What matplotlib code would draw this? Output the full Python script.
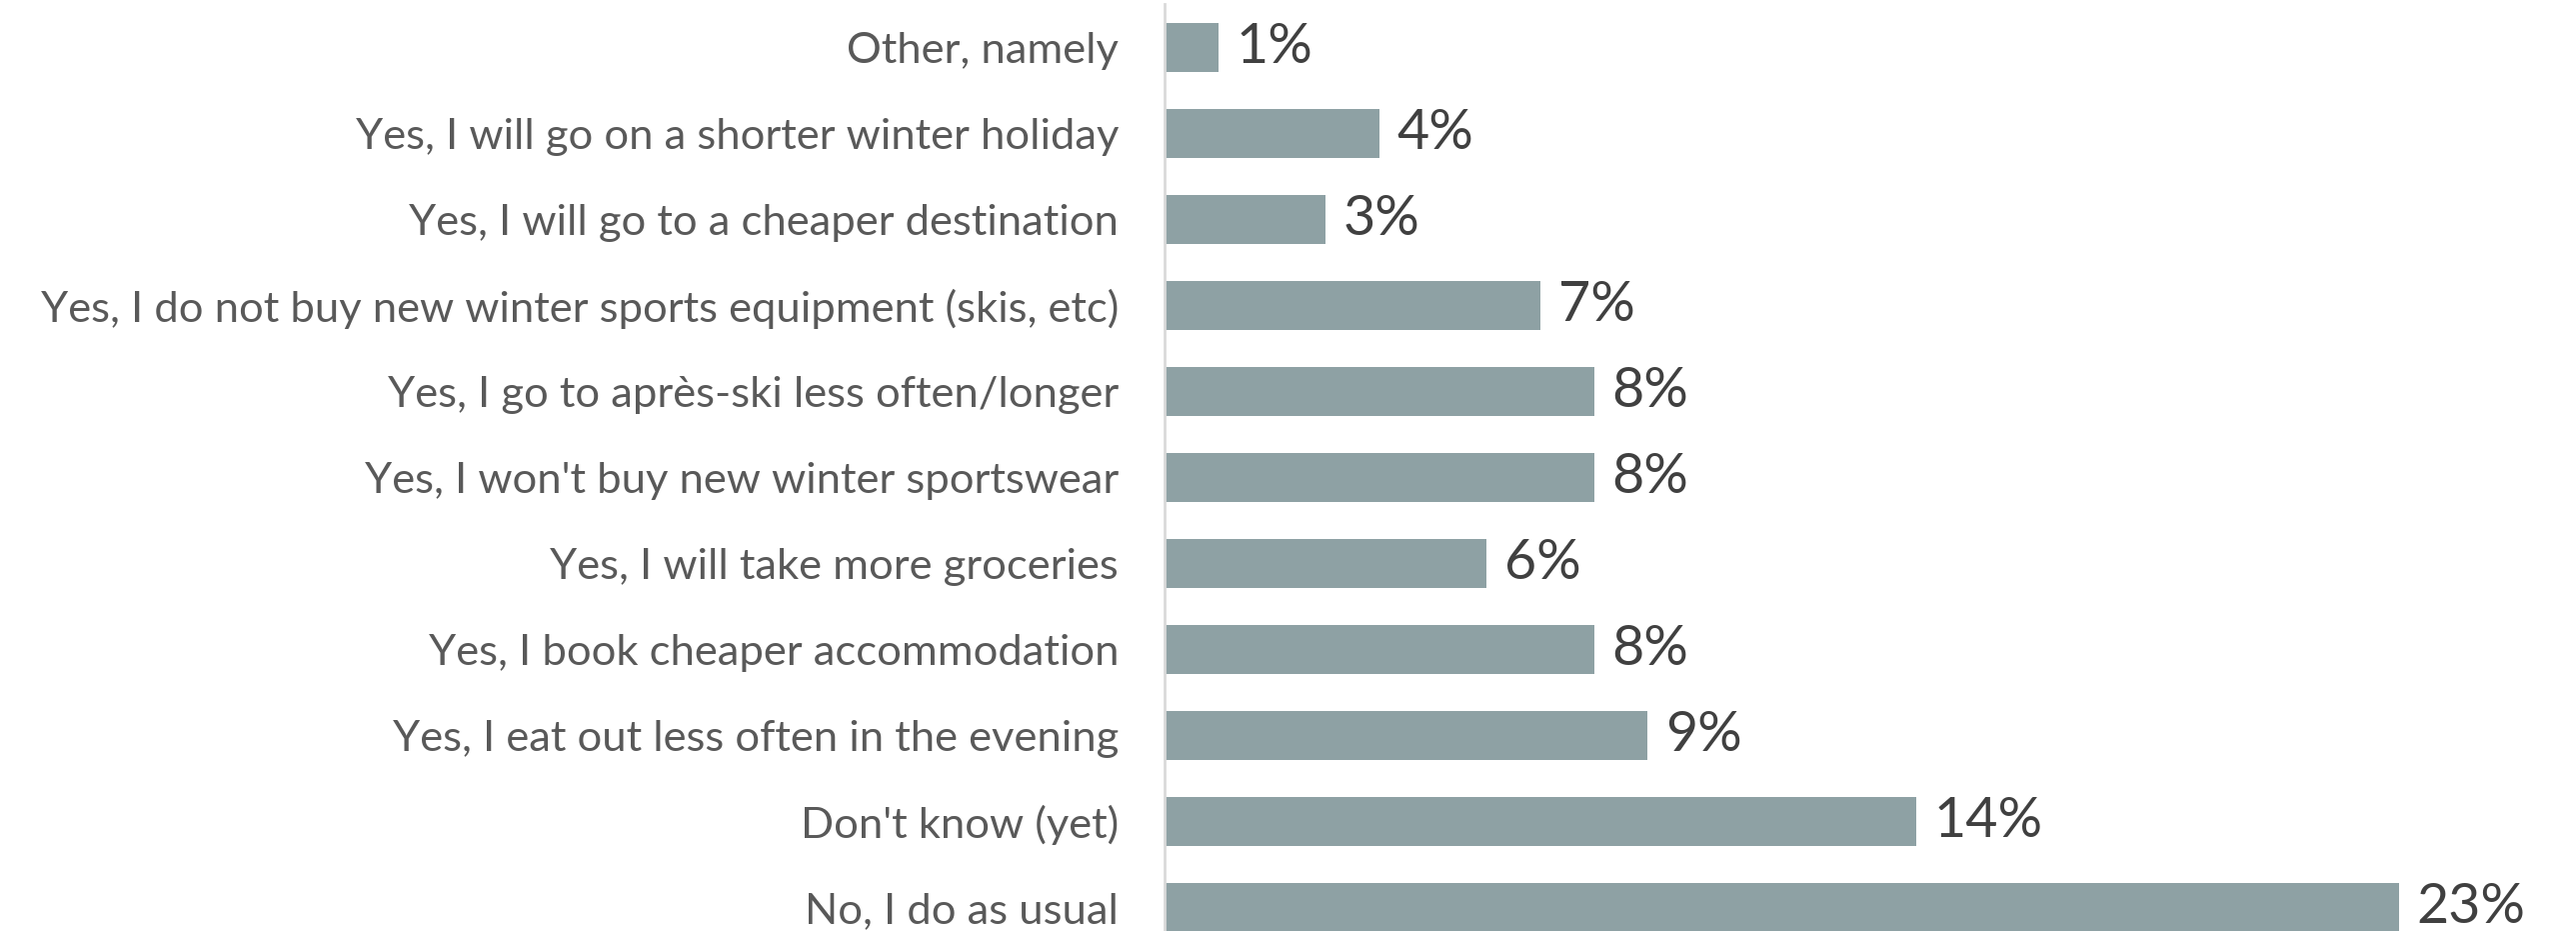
""" Winter holiday spending: horizontal bar chart """

import matplotlib
matplotlib.use('Agg')
import matplotlib.pyplot as plt

categories = [
    'Other, namely',
    'Yes, I will go on a shorter winter holiday',
    'Yes, I will go to a cheaper destination',
    'Yes, I do not buy new winter sports equipment (skis, etc)',
    'Yes, I go to après-ski less often/longer',
    "Yes, I won't buy new winter sportswear",
    'Yes, I will take more groceries',
    'Yes, I book cheaper accommodation',
    'Yes, I eat out less often in the evening',
    "Don't know (yet)",
    'No, I do as usual',
]
values = [1, 4, 3, 7, 8, 8, 6, 8, 9, 14, 23]

BAR_COLOR = '#8ea1a4'
LABEL_COLOR = '#595959'
VALUE_COLOR = '#404040'

plt.rcParams['font.family'] = ['Lato', 'DejaVu Sans']

fig = plt.figure(figsize=(25.77, 9.31), dpi=100)
ax = fig.add_axes([1165 / 2577, 0, 1 - 1165 / 2577, 1])

pos = list(range(len(categories)))
ax.barh(pos, values, height=0.565, color=BAR_COLOR)

# 86 px per category row, first row centred 47.5 px from the top
ax.set_ylim(10.27, -0.552)
ax.set_xlim(0, 26.3)

for p, v in zip(pos, values):
    ax.text(v + 0.33, p, f'{v}%', va='center', ha='left',
            fontsize=40, color=VALUE_COLOR)

ax.set_yticks(pos)
ax.set_yticklabels(categories, fontsize=31.3, color=LABEL_COLOR)
ax.tick_params(axis='y', length=0, pad=33)
ax.set_xticks([])

for side in ['top', 'right', 'bottom']:
    ax.spines[side].set_visible(False)
ax.spines['left'].set_color('#d9d9d9')
ax.spines['left'].set_linewidth(2)
ax.spines['left'].set_bounds(-0.5, 10.27)

fig.savefig('out.png', dpi=100, facecolor='white')
